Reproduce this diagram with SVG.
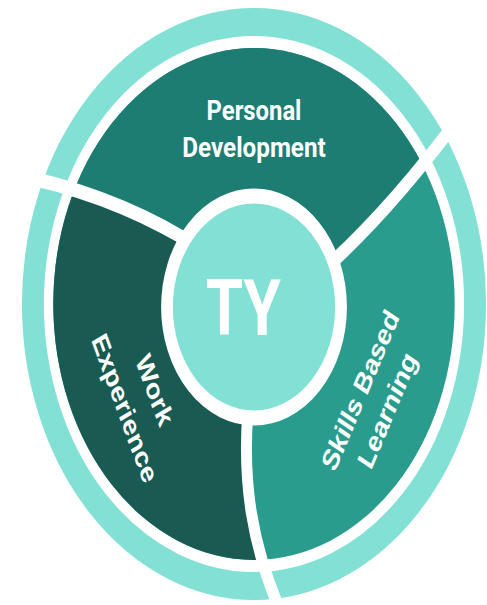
<svg xmlns="http://www.w3.org/2000/svg" width="487" height="605" viewBox="0 0 487 605">
<defs>
<style>
.ring{fill:none;stroke:#82E0D5;stroke-width:28}
.pd{fill:#1E7D72}
.we{fill:#195B52}
.sbl{fill:#299C8E}
.div{fill:none;stroke:#FFFFFF;stroke-width:14}
.core{fill:#82E0D5;stroke:#FFFFFF;stroke-width:15}
.lbl{fill:#FFFFFF;font-family:"Liberation Sans",Arial,sans-serif;font-weight:700;font-size:30px;text-anchor:middle}
.pdl{fill:#FFFFFF;font-family:Roboto,"Liberation Sans",sans-serif;font-weight:700;font-size:28px;text-anchor:middle}
.ty{fill:#FFFFFF;font-family:Roboto,"Liberation Sans",sans-serif;font-weight:700;font-size:77px;text-anchor:middle}
</style>
<clipPath id="disk"><circle cx="0" cy="0" r="256"/></clipPath>
</defs>
<rect width="487" height="605" fill="#FFFFFF"/>
<g transform="translate(254 304) scale(0.784 1)">
  <g id="outer-ring"><circle class="ring" cx="0" cy="0" r="282"/></g>
  <g id="skills-based-learning">
    <circle class="sbl" cx="0" cy="0" r="256"/>
    <text class="lbl" transform="translate(144.6 91) rotate(-62)" x="0" y="0">Skills Based</text>
    <text class="lbl" transform="translate(179 111) rotate(-62)" x="0" y="0">Learning</text>
  </g>
  <g id="personal-development">
    <path class="pd" clip-path="url(#disk)" d="M0 0 L-90 -66 Q-190 -112 -310 -130 L-330 -330 L330 -330 L265 -190 Q180 -100 100 -42 Z"/>
    <text class="pdl" x="0" y="-184.5" textLength="121" lengthAdjust="spacingAndGlyphs">Personal</text>
    <text class="pdl" x="0" y="-147.3" textLength="183" lengthAdjust="spacingAndGlyphs">Development</text>
  </g>
  <g id="work-experience">
    <path class="we" clip-path="url(#disk)" d="M0 0 L-90 -66 Q-190 -112 -310 -130 L-330 340 L40 340 L38 315 C-5 240 -14 175 -8 110 Z"/>
    <text class="lbl" transform="translate(-136 90.5) rotate(65)" x="0" y="0">Work</text>
    <text class="lbl" transform="translate(-174.2 108.5) rotate(65)" x="0" y="0">Experience</text>
  </g>
  <g id="connectors">
    <path class="div" d="M-90 -66 Q-190 -112 -310 -130"/>
    <path class="div" d="M100 -42 Q180 -100 265 -190"/>
    <path class="div" d="M-8 110 C-14 175 -5 240 38 315"/>
  </g>
  <g id="ty">
    <circle class="core" cx="0" cy="3" r="111"/>
    <text class="ty" x="-13.6" y="31">TY</text>
  </g>
</g>
</svg>
